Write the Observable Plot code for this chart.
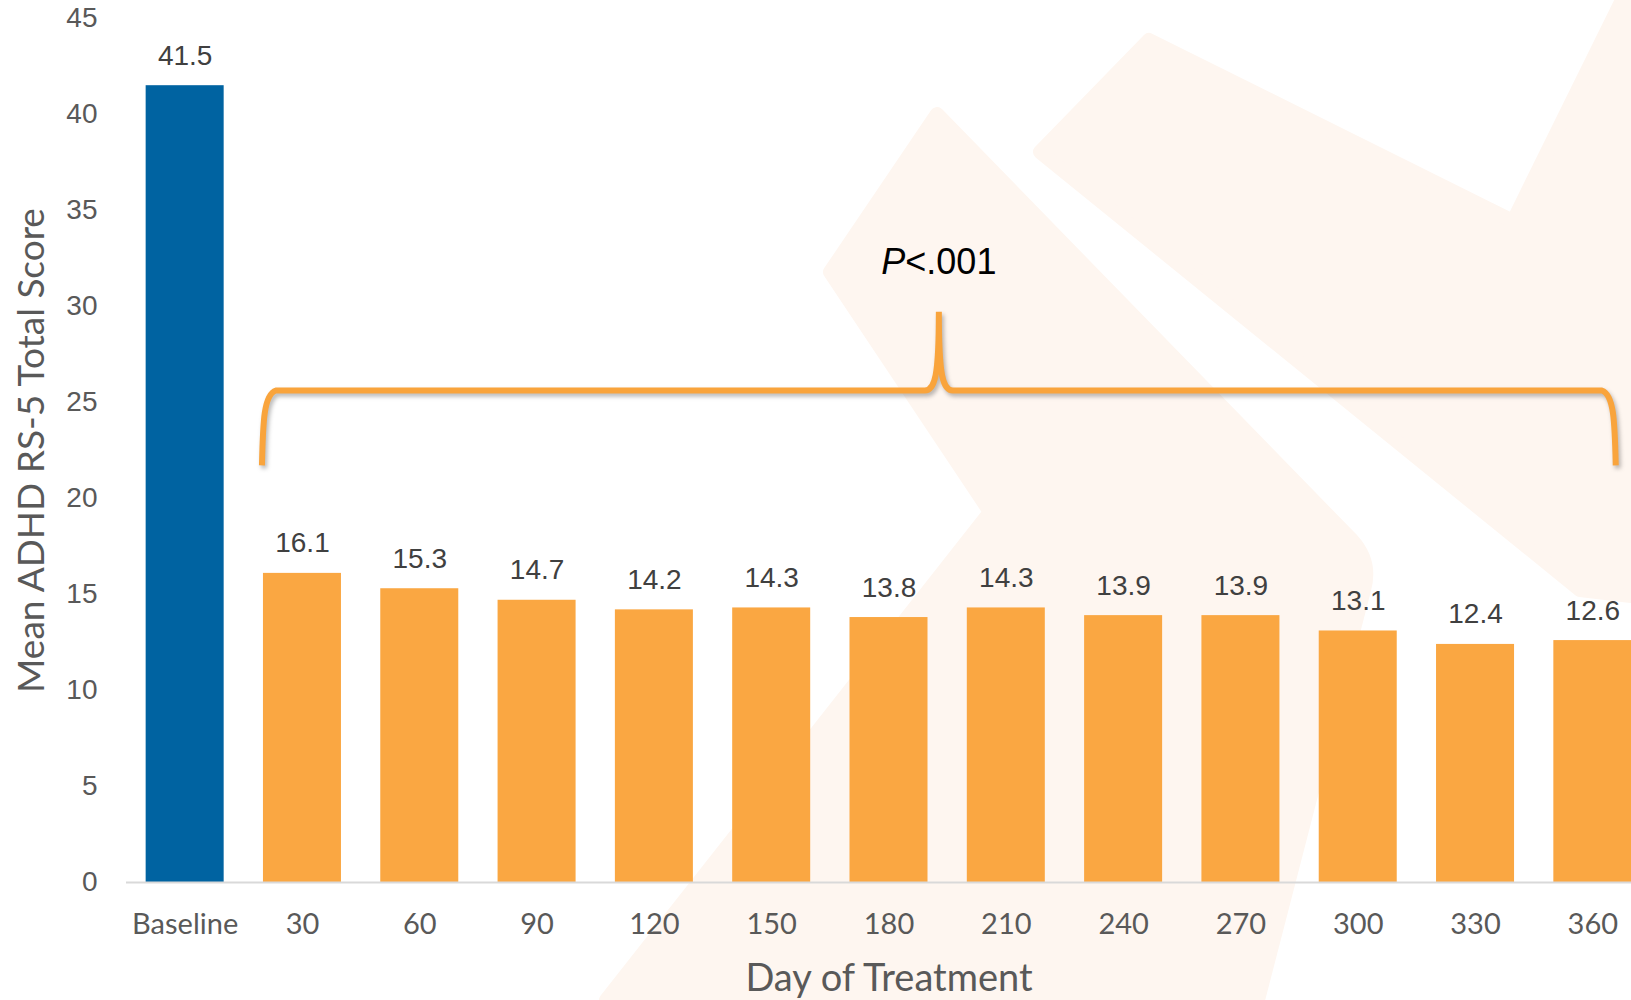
<!DOCTYPE html>
<html>
<head>
<meta charset="utf-8">
<script src="https://cdn.jsdelivr.net/npm/d3@7"></script>
<script src="https://cdn.jsdelivr.net/npm/@observablehq/plot@0.6"></script>
<style>
  html, body { margin: 0; padding: 0; background: #ffffff; overflow: hidden; }
  #wrap { position: relative; width: 1631px; height: 1000px; }
  #wm { position: absolute; left: 0; top: 0; }
  #chart { position: absolute; left: 0; top: 0; }
  #chart svg { background: transparent !important; }
</style>
</head>
<body>
<div id="wrap">
  <!-- faint decorative watermark behind the chart -->
  <svg id="wm" width="1631" height="1000" viewBox="0 0 1631 1000">
    <g fill="#FEF6F0" stroke="#FEF6F0" stroke-width="14" stroke-linejoin="round">
      <path d="M937,114 L1352,540 Q1372,562 1364,590 L1258,1000 L606,1000 L990,512 L830,272 Z"/>
      <path d="M1149,40 L1513,221 L1622,0 L1631,0 L1631,596 L1580,590 L1040,152 Z"/>
    </g>
  </svg>
  <div id="chart"></div>
</div>
<script>
// ---- data ----
const categories = ["Baseline", "30", "60", "90", "120", "150", "180", "210", "240", "270", "300", "330", "360"];
const scores = [41.5, 16.1, 15.3, 14.7, 14.2, 14.3, 13.8, 14.3, 13.9, 13.9, 13.1, 12.4, 12.6];
const groups = ["Baseline", "Treatment", "Treatment", "Treatment", "Treatment", "Treatment", "Treatment",
                "Treatment", "Treatment", "Treatment", "Treatment", "Treatment", "Treatment"];
const groupNames = ["Baseline", "Treatment"];
const groupColors = ["#0063A1", "#FAA742"];
const yTicks = [0, 5, 10, 15, 20, 25, 30, 35, 40, 45];

// brace annotation (in data units)
const braceFrom = "30";
const braceTo = "360";
const braceLevel = 25.6;
const braceTip = 29.7;
const braceFoot = 21.7;
const pLabelY = 32.2;
const pLabelItalic = "P";
const pLabelRest = "<.001";

const yTitle = "Mean ADHD RS-5 Total Score";
const xTitle = "Day of Treatment";

const data = categories.map((c, i) => ({category: c, score: scores[i], group: groups[i]}));

const braceMark = (index, scales, values, dimensions) => {
  const x = scales.x, y = scales.y;
  const bw = typeof x.bandwidth === "function" ? x.bandwidth() : (scales.scales && scales.scales.x ? scales.scales.x.bandwidth : 78);
  const L = x(braceFrom) - 1;
  const R = x(braceTo) + bw * 0.8;
  const M = (L + R) / 2;
  const yl = y(braceLevel), yt = y(braceTip), yf = y(braceFoot);
  const p = d3.path();
  p.moveTo(L, yf);
  p.bezierCurveTo(L + 1, yf - 45, L + 2, yl + 4, L + 14, yl);
  p.lineTo(M - 14, yl);
  p.bezierCurveTo(M - 4, yl, M, yl - 14, M, yt);
  p.bezierCurveTo(M, yl - 14, M + 4, yl, M + 14, yl);
  p.lineTo(R - 14, yl);
  p.bezierCurveTo(R - 2, yl + 4, R - 1, yf - 45, R, yf);
  const g = d3.create("svg:g");
  g.append("path")
    .attr("d", p.toString())
    .attr("fill", "none")
    .attr("stroke", "#F9A43C")
    .attr("stroke-width", 6)
    .attr("style", "filter: drop-shadow(2px 3px 2px rgba(0,0,0,0.28));");
  const t = g.append("text")
    .attr("x", M)
    .attr("y", y(pLabelY))
    .attr("text-anchor", "middle")
    .attr("dominant-baseline", "middle")
    .attr("font-family", "'Liberation Sans', Arial, sans-serif")
    .attr("font-size", 36)
    .attr("fill", "#000000");
  t.append("tspan").attr("font-style", "italic").text(pLabelItalic);
  t.append("tspan").text(pLabelRest);
  return g.node();
};

const chart = Plot.plot({
  width: 1631,
  height: 1000,
  marginTop: 18,
  marginBottom: 118,
  marginLeft: 126,
  marginRight: -20,
  style: {background: "transparent", fontFamily: "'Liberation Sans', Arial, sans-serif"},
  x: {domain: categories, paddingInner: 0.335, paddingOuter: 0.1675, round: false, label: null},
  y: {domain: [0, 45], label: null},
  color: {domain: groupNames, range: groupColors},
  marks: [
    Plot.barY(data, {x: "category", y: "score", fill: "group"}),
    Plot.ruleY([0], {stroke: "#D9D9D9", strokeWidth: 2}),
    Plot.text(data, {x: "category", y: "score", text: d => d.score.toFixed(1), dy: -30,
      fontSize: 28, fill: "#404040", fontFamily: "'Liberation Sans', Arial, sans-serif"}),
    Plot.axisY({ticks: yTicks, tickSize: 0, tickPadding: 29, fontSize: 28, color: "#595959",
      fontFamily: "'Liberation Sans', Arial, sans-serif", label: null}),
    Plot.axisX({tickSize: 0, tickPadding: 31, fontSize: 29, color: "#595959",
      fontFamily: "Lato, sans-serif", label: null}),
    Plot.text([yTitle], {frameAnchor: "left", textAnchor: "middle", rotate: -90, dx: -94, fontSize: 37,
      fill: "#595959", fontFamily: "Lato, sans-serif"}),
    Plot.text([xTitle], {frameAnchor: "bottom", dy: 108, fontSize: 38,
      fill: "#595959", fontFamily: "Lato, sans-serif"}),
    braceMark
  ]
});
document.getElementById("chart").appendChild(chart);
</script>
</body>
</html>
